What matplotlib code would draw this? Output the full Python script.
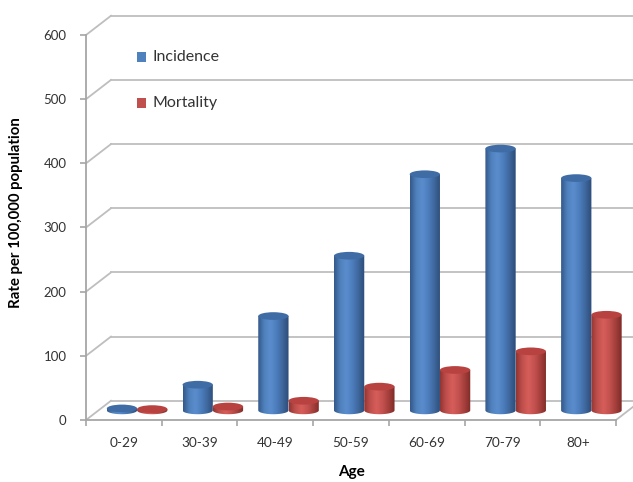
import numpy as np
import matplotlib.pyplot as plt
from matplotlib.patches import Ellipse, Rectangle, PathPatch
from matplotlib.path import Path
from matplotlib.colors import LinearSegmentedColormap

# data
ages = ['0-29', '30-39', '40-49', '50-59', '60-69', '70-79', '80+']
incidence = [3, 40, 147, 241, 368, 408, 362]
mortality = [2, 6, 15, 37, 63, 92, 149]
yticks = [0, 100, 200, 300, 400, 500, 600]

plt.rcParams['font.family'] = ['Lato', 'DejaVu Sans']

W, H = 633, 482
fig = plt.figure(figsize=(W / 100, H / 100), dpi=100)
# front plane of the 3d box, in pixels: x 86..616, y 35..420
ax = fig.add_axes([86 / W, (H - 420) / H, 530 / W, 385 / H])
ax.set_xlim(0, len(ages))
ax.set_ylim(0, 600)

DX, DY = 0.33, 30.0   # depth offset in data units
grid_c = '#BEBEBE'

# back wall gridlines and side wall diagonals
for v in yticks:
    ax.plot([DX, len(ages) + DX + 0.5], [v + DY, v + DY], color=grid_c, lw=1.3,
            clip_on=False, zorder=1)
    ax.plot([0, DX], [v, v + DY], color=grid_c, lw=1.3, clip_on=False, zorder=1)
# floor right edge
ax.plot([len(ages), len(ages) + DX], [0, DY], color=grid_c, lw=1.3, clip_on=False, zorder=1)

for s in ['top', 'right']:
    ax.spines[s].set_visible(False)
for s in ['left', 'bottom']:
    ax.spines[s].set_color('#A6A6A6')
    ax.spines[s].set_linewidth(1.3)

ax.set_yticks(yticks)
ax.set_yticklabels([str(v) for v in yticks], fontsize=9.5, color='#333333')
ax.set_xticks(np.arange(len(ages) + 1))
ax.set_xticklabels([])
ax.set_xticks(np.arange(len(ages)) + 0.5, minor=True)
ax.set_xticklabels(ages, minor=True, fontsize=9.8, color='#333333')
ax.tick_params(axis='both', which='major', color='#A6A6A6', length=4, width=1.2)
ax.tick_params(axis='x', which='minor', length=0, pad=12)
ax.tick_params(axis='y', pad=10)

ax.set_ylabel('Rate per 100,000 population', fontsize=10.8, fontweight='bold')
ax.yaxis.set_label_coords(-0.118, 0.538)
ax.set_xlabel('Age', fontsize=11, fontweight='bold', labelpad=12)

blue_cm = LinearSegmentedColormap.from_list('b', ['#34598A', '#4F81BD', '#5B8DCE', '#4C7DBB', '#3E679C', '#2C4C78'])
red_cm = LinearSegmentedColormap.from_list('r', ['#943532', '#C0504D', '#D65E5A', '#C4524F', '#A43F3C', '#7E2B29'])
grad = np.linspace(0, 1, 64).reshape(1, -1)

bw = 0.4
eh = 12.0  # ellipse height in value units


def cylinder(xc, v, cmap, top_c):
    base = DY / 2
    x0, x1 = xc - bw / 2, xc + bw / 2
    # body outline: rectangle plus lower half ellipse
    t = np.linspace(np.pi, 2 * np.pi, 40)
    bx = xc + bw / 2 * np.cos(t)
    by = base + eh / 2 * np.sin(t)
    verts = [(x0, base + v)] + list(zip(bx, by)) + [(x1, base + v), (x0, base + v)]
    codes = [Path.MOVETO] + [Path.LINETO] * (len(verts) - 2) + [Path.CLOSEPOLY]
    body = PathPatch(Path(verts, codes), facecolor='none', edgecolor='none',
                     transform=ax.transData)
    ax.add_patch(body)
    im = ax.imshow(grad, cmap=cmap, aspect='auto', extent=[x0, x1, base - eh, base + v],
                   zorder=3, interpolation='bicubic')
    im.set_clip_path(body)
    im.set_clip_box(fig.bbox)
    top = Ellipse((xc, base + v), bw, eh, facecolor=top_c, edgecolor='none', zorder=4,
                  clip_on=False)
    ax.add_patch(top)


for i in range(len(ages)):
    cx = i + 0.5 + DX / 2 + 0.01
    cylinder(cx - 0.2, incidence[i], blue_cm, '#3F6CA5')
    cylinder(cx + 0.2, mortality[i], red_cm, '#B8423F')

ax.set_xlim(0, len(ages))
ax.set_ylim(0, 600)

# legend
for lbl, c, yp in [('Incidence', '#4F81BD', 57), ('Mortality', '#C0504D', 103)]:
    fig.patches.append(Rectangle((137 / W, 1 - (yp + 4.5) / H), 9 / W, 9 / H,
                                 facecolor=c, edgecolor='none', transform=fig.transFigure))
    fig.text(152 / W, 1 - yp / H, lbl, fontsize=11.5, color='#333333', va='center', ha='left')

fig.savefig('out.png', dpi=100)
